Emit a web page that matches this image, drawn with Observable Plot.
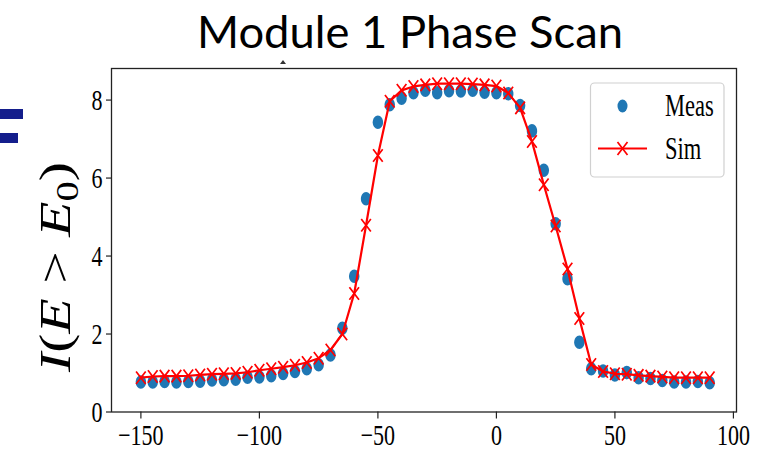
<!DOCTYPE html>
<html>
<head>
<meta charset="utf-8">
<script src="https://cdn.jsdelivr.net/npm/d3@7"></script>
<script src="https://cdn.jsdelivr.net/npm/@observablehq/plot@0.6"></script>
<style>
  html, body { margin: 0; padding: 0; background: #fff; }
  #wrap { position: relative; width: 770px; height: 453px; overflow: hidden; }
  #overlay { position: absolute; left: 0; top: 0; pointer-events: none; }
</style>
</head>
<body>
<div id="wrap"></div>
<script>
// ---- data ----
const phase = [-150,-145,-140,-135,-130,-125,-120,-115,-110,-105,-100,-95,-90,-85,-80,-75,-70,-65,-60,-55,-50,-45,-40,-35,-30,-25,-20,-15,-10,-5,0,5,10,15,20,25,30,35,40,45,50,55,60,65,70,75,80,85,90];
const measValues = [0.77,0.77,0.78,0.77,0.78,0.79,0.82,0.83,0.84,0.89,0.90,0.93,0.99,1.04,1.11,1.21,1.46,2.15,3.48,5.47,7.43,7.88,8.05,8.19,8.25,8.19,8.24,8.23,8.25,8.20,8.19,8.16,7.86,7.21,6.20,4.83,3.42,1.79,1.11,1.05,0.95,1.01,0.88,0.86,0.81,0.77,0.77,0.78,0.75];
const simValues = [0.88,0.91,0.92,0.92,0.93,0.95,0.97,0.98,0.99,1.02,1.07,1.11,1.15,1.20,1.27,1.38,1.59,2.00,3.04,4.79,6.58,7.97,8.25,8.35,8.39,8.42,8.42,8.42,8.41,8.39,8.36,8.18,7.80,6.94,5.83,4.77,3.67,2.40,1.22,1.04,0.98,0.97,0.94,0.92,0.90,0.88,0.88,0.88,0.88];
const xTicks = [-150, -100, -50, 0, 50, 100];
const yTicks = [0, 2, 4, 6, 8];
const seriesNames = ["Meas", "Sim"];
const titleText = "Module 1 Phase Scan";

const meas = phase.map((p, i) => ({phase: p, value: measValues[i]}));
const sim = phase.map((p, i) => ({phase: p, value: simValues[i]}));

// vertically elongated marker shapes (the reference image is stretched vertically)
const STRETCH = 1.3;
const ellipseSym = {
  draw(ctx, size) {
    const r = Math.sqrt(size / Math.PI), rx = r, ry = r * STRETCH, k = 0.5523;
    ctx.moveTo(rx, 0);
    ctx.bezierCurveTo(rx, ry * k, rx * k, ry, 0, ry);
    ctx.bezierCurveTo(-rx * k, ry, -rx, ry * k, -rx, 0);
    ctx.bezierCurveTo(-rx, -ry * k, -rx * k, -ry, 0, -ry);
    ctx.bezierCurveTo(rx * k, -ry, rx, -ry * k, rx, 0);
    ctx.closePath();
  }
};
const crossSym = {
  draw(ctx, size) {
    const r = Math.sqrt(size / Math.PI), a = r, b = r * STRETCH;
    ctx.moveTo(-a, -b); ctx.lineTo(a, b);
    ctx.moveTo(-a, b); ctx.lineTo(a, -b);
  }
};

const fmt = d => d < 0 ? "\u2212" + Math.abs(d) : String(d);

const chart = Plot.plot({
  width: 770,
  height: 453,
  marginLeft: 111,
  marginRight: 34,
  marginTop: 68,
  marginBottom: 41.5,
  x: {domain: [-162.4, 101.3]},
  y: {domain: [0, 8.81]},
  style: {fontFamily: "'Liberation Serif', 'Times New Roman', serif", fontSize: "22px", color: "#000", background: "transparent"},
  marks: [
    Plot.axisX({ticks: xTicks, tickSize: 7, tickPadding: 5, tickFormat: fmt, label: null, stroke: "#222", strokeWidth: 1.2}),
    Plot.axisY({ticks: yTicks, tickSize: 5, tickPadding: 4, tickFormat: fmt, label: null, stroke: "#222", strokeWidth: 1.2}),
    Plot.dot(meas, {x: "phase", y: "value", r: 5.2, fill: "#1f77b4", symbol: ellipseSym}),
    Plot.line(sim, {x: "phase", y: "value", stroke: "#ff0000", strokeWidth: 2.2}),
    Plot.dot(sim, {x: "phase", y: "value", r: 4.8, fill: "none", stroke: "#ff0000", strokeWidth: 1.7, symbol: crossSym}),
    Plot.frame({stroke: "#222", strokeWidth: 1.3})
  ]
});

// stretch tick label glyphs vertically like the reference
const TEXT_STRETCH = 1.36;
chart.querySelectorAll('g[aria-label$="tick label"] text').forEach(el => {
  const t = el.getAttribute("transform");
  if (t) {
    el.setAttribute("transform", t + ` scale(1,${TEXT_STRETCH})`);
  } else {
    const x = +(el.getAttribute("x") || 0), y = +(el.getAttribute("y") || 0);
    el.removeAttribute("x"); el.removeAttribute("y");
    el.setAttribute("transform", `translate(${x},${y}) scale(1,${TEXT_STRETCH})`);
  }
});

const wrap = document.getElementById("wrap");
wrap.appendChild(chart);

// ---- overlay: title, y label, legend, slide decorations ----
const NS = "http://www.w3.org/2000/svg";
const ov = document.createElementNS(NS, "svg");
ov.setAttribute("id", "overlay");
ov.setAttribute("width", 770);
ov.setAttribute("height", 453);
ov.innerHTML = `
  <rect x="0" y="109" width="23" height="10" fill="#141e8c"/>
  <rect x="0" y="133" width="18" height="10" fill="#141e8c"/>
  <path d="M280,64 L283,60 L286,64 Z" fill="#333"/>
  <text x="197" y="48" font-family="Lato, 'Open Sans', sans-serif" font-size="44" fill="#000"
        textLength="426" lengthAdjust="spacingAndGlyphs">${titleText}</text>
  <text transform="translate(70,372) rotate(-90)" font-family="'Liberation Serif', serif" font-size="44" fill="#000"
        textLength="210" lengthAdjust="spacingAndGlyphs"><tspan font-style="italic">I</tspan>(<tspan font-style="italic">E</tspan> &gt; <tspan font-style="italic">E</tspan><tspan font-size="31" dy="8">0</tspan><tspan dy="-8">)</tspan></text>
  <rect x="590.5" y="83" width="133.5" height="94" rx="4" ry="4" fill="#fff" fill-opacity="0.85" stroke="#d0d0d0" stroke-width="1.2"/>
  <ellipse cx="622.5" cy="106" rx="5" ry="6.5" fill="#1f77b4"/>
  <text transform="translate(665,116) scale(1,1.4)" font-family="'Liberation Serif', serif" font-size="22.5" fill="#000">${seriesNames[0]}</text>
  <line x1="598" y1="148.5" x2="647" y2="148.5" stroke="#ff0000" stroke-width="2.2"/>
  <path d="M617.5,142 L627.5,155 M617.5,155 L627.5,142" stroke="#ff0000" stroke-width="1.7" fill="none"/>
  <text transform="translate(665,159) scale(1,1.4)" font-family="'Liberation Serif', serif" font-size="22.5" fill="#000">${seriesNames[1]}</text>
`;
wrap.appendChild(ov);
</script>
</body>
</html>
